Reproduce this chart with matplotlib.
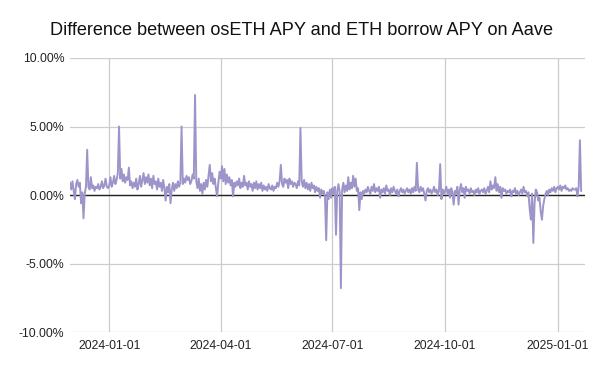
import matplotlib
matplotlib.use("Agg")
import matplotlib.pyplot as plt
import matplotlib.dates as mdates
from matplotlib.ticker import FuncFormatter
import numpy as np
import pandas as pd

plt.rcParams['font.family'] = ['Liberation Sans', 'DejaVu Sans']

# daily difference (osETH APY - ETH borrow APY), in %
nov23 = [0.9]
dec23 = [0.4, 1.0, 0.3, -0.3, 0.8, 1.1, 0.6, 0.9, -0.6, 0.2, -1.7, 0.1, 0.6, 3.3, 0.6, 0.4,
         1.3, 0.5, 0.7, 0.3, 0.6, 0.5, 0.8, 0.4, 0.6, 1.0, 0.5, 0.7, 1.2, 0.6, 0.5]
jan24 = [0.7, 1.3, 0.6, 0.9, 1.4, 0.8, 1.1, 1.6, 5.0, 1.2, 1.9, 1.0, 1.5, 0.9, 1.3, 1.1,
         2.0, 0.7, 1.0, 0.5, 0.9, 0.6, 1.2, 0.4, 0.8, 1.4, 0.6, 1.1, 1.6, 0.8, 1.3]
feb24 = [0.9, 1.5, 0.7, 1.2, 0.5, 1.4, 0.8, 1.0, 0.4, 1.2, 0.6, 0.9, 0.3, 1.1, 0.5, -0.4,
         0.6, 0.2, 0.8, -0.6, 0.4, 0.9, 0.3, 0.8, 0.5, 1.0, 0.6, 0.9, 5.0]
mar24 = [0.8, 1.2, 0.9, 1.4, 1.1, 1.3, 0.8, 1.0, 1.5, 1.2, 7.3, 1.0, 0.5, 1.2, 0.3, 0.8,
         0.1, 0.9, 0.4, 1.1, 0.6, 1.4, 2.2, 1.0, 1.6, 0.8, 1.2, 0.5, -0.1, 0.9, 1.7]
apr24 = [1.2, 2.1, 1.0, 1.9, 0.8, 1.5, 0.9, 1.3, 0.7, 1.1, -0.1, 0.9, 0.6, 1.0, 0.7, 1.2,
         0.5, 0.9, 0.6, 1.4, 0.7, 0.9, 0.4, 1.0, 0.6, 0.8, 0.3, 0.9, 0.5, 1.0]
may24 = [0.4, 0.8, 0.5, 0.9, 0.3, 0.7, 0.4, 0.6, 0.3, 0.8, 0.5, 0.4, 0.7, 0.3, 0.6, 0.5,
         0.9, 0.6, 1.0, 2.2, 0.8, 0.6, 1.2, 0.9, 1.1, 0.5, 1.2, 0.8, 1.0, 0.6, 0.9]
jun24 = [0.8, 0.5, 1.0, 0.7, 4.9, 1.0, 0.6, 1.1, 0.5, 0.9, 0.4, 0.8, 0.3, 0.9, 0.5, 0.7,
         0.2, 0.6, 0.3, 0.5, -0.2, 0.4, 0.1, 0.3, -0.1, -3.3, 0.2, -0.3, 0.4, -0.2]
jul24 = [0.5, 0.1, 0.6, -2.9, 0.3, 0.8, 0.2, -6.8, 0.4, 0.9, 0.2, 0.7, 0.3, 1.3, 0.4, 0.9,
         0.5, 1.4, 0.6, 1.2, 0.3, 0.5, -1.1, 0.2, -0.3, 0.3, 0.1, 0.4, 0.2, 0.6, 0.3]
aug24 = [0.1, 0.6, 0.3, 0.8, 0.2, 0.5, 0.3, 0.6, -0.2, 0.4, 0.2, 0.5, 0.1, 0.7, 0.3, 0.4,
         0.0, 0.5, 0.2, 0.6, 0.3, 0.1, 0.4, -0.1, 0.3, 0.5, 0.2, 0.4, 0.1, 0.3, 0.5]
sep24 = [0.2, 0.4, 0.1, 0.5, 0.2, 0.6, 0.3, 2.35, 0.4, 0.2, 0.6, 0.3, 0.5, 0.1, -0.4, 0.3,
         0.5, 0.2, 0.4, 0.1, 0.3, 0.6, 0.2, 0.4, 0.0, 0.3, 2.25, -0.3, 0.4, 0.1]
oct24 = [0.3, 0.6, 0.1, 0.4, -0.2, 0.5, 0.2, -0.7, 0.3, 0.1, 0.6, -0.7, 0.4, 0.8, 0.2, 0.5,
         -0.2, 0.6, 0.3, 0.4, 0.1, 0.5, 0.2, 0.3, 0.0, 0.4, 0.2, 0.5, 0.1, 0.3, 0.4]
nov24 = [0.2, 0.5, 0.1, 0.3, 0.6, 0.2, 1.0, 0.4, 0.7, 0.5, 1.3, 0.3, 0.8, 0.2, 0.6, -0.2,
         0.5, 0.3, 0.4, 0.1, 0.3, 0.2, 0.4, -0.1, 0.3, 0.2, 0.5, 0.1, 0.3, 0.0]
dec24 = [0.2, 0.4, 0.1, 0.6, 0.2, 0.3, -0.1, 0.2, -1.0, -1.8, 0.1, -3.5, -0.6, 0.4, 0.2, -0.4,
         -0.2, -1.2, -1.8, -0.8, -0.3, 0.1, 0.3, 0.0, 0.4, 0.2, 0.5, 0.3, 0.6, 0.2, 0.5]
jan25 = [0.6, 0.4, 0.7, 0.3, 0.6, 0.5, 0.7, 0.4, 0.5, 0.3, 0.4, 0.3, 0.5, 0.4, 0.4, 0.5,
         -0.1, 0.6, 4.0, 0.3]

month_starts = ["2023-11-30", "2023-12-01", "2024-01-01", "2024-02-01", "2024-03-01",
                "2024-04-01", "2024-05-01", "2024-06-01", "2024-07-01", "2024-08-01",
                "2024-09-01", "2024-10-01", "2024-11-01", "2024-12-01", "2025-01-01"]
months = [nov23, dec23, jan24, feb24, mar24, apr24, may24, jun24, jul24, aug24,
          sep24, oct24, nov24, dec24, jan25]

dates = []
vals = []
for start, m in zip(month_starts, months):
    dates.extend(pd.date_range(start, periods=len(m), freq="D"))
    vals.extend(m)
vals = np.array(vals) / 100.0

fig = plt.figure(figsize=(6, 3.71), dpi=100)
ax = fig.add_axes([0.1167, 0.105, 0.858, 0.7387])

ax.axhline(0, color="#222222", lw=1.0, zorder=2)
ax.plot(dates, vals, color="#9d95c9", lw=1.4, zorder=3)

ax.set_xlim(dates[0], dates[-1] + pd.Timedelta(days=3))
ax.set_ylim(-0.10, 0.10)
ax.set_yticks([-0.10, -0.05, 0, 0.05, 0.10])
ax.yaxis.set_major_formatter(FuncFormatter(lambda v, p: "{:.2f}%".format(v * 100)))
ax.set_xticks(pd.to_datetime(["2024-01-01", "2024-04-01", "2024-07-01", "2024-10-01", "2025-01-01"]))
ax.xaxis.set_major_formatter(mdates.DateFormatter("%Y-%m-%d"))

ax.grid(True, color="#cccccc", lw=0.9, zorder=0)
ax.set_axisbelow(True)
for s in ax.spines.values():
    s.set_visible(False)
ax.tick_params(length=0, labelsize=8.8, colors="#222222")
ax.tick_params(axis="x", pad=6)
ax.tick_params(axis="y", pad=4)

fig.text(0.502, 0.918, "Difference between osETH APY and ETH borrow APY on Aave",
         ha="center", va="center", fontsize=13.1, color="#111111")

fig.savefig("out.png", dpi=100)
